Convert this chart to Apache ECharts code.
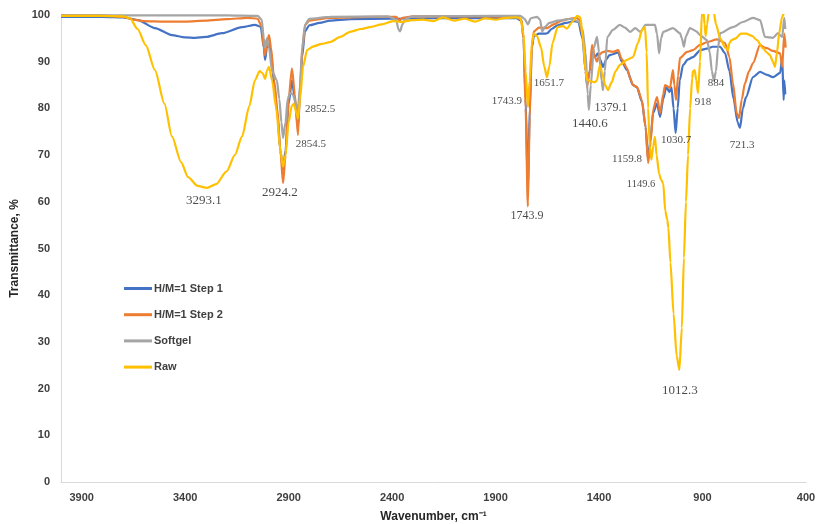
<!DOCTYPE html>
<html>
<head>
<meta charset="utf-8">
<script src="https://cdn.jsdelivr.net/npm/echarts@6/dist/echarts.min.js"></script>
<style>html,body{margin:0;padding:0;background:#fff}#c{width:817px;height:524px}</style>
</head>
<body>
<div id="c"></div>
<script>
const seriesNames = ['H/M=1 Step 1', 'H/M=1 Step 2', 'Softgel', 'Raw'];
const xTickLabels = [400, 900, 1400, 1900, 2400, 2900, 3400, 3900];
const yTickLabels = [0, 10, 20, 30, 40, 50, 60, 70, 80, 90, 100];

const step1 = [[4000,99.6],[3800,99.6],[3700,99.5],[3660,99.2],[3628,98.9],[3546,97.2],[3464,95.7],[3400,95.2],[3352,95.1],[3300,95.3],[3222,96.1],[3125,97.4],[3063,97.9],[3035,97.5],[3020,93],[3014,90.4],[3005,93],[2995,94],[2985,92],[2970,85],[2955,79],[2940,71],[2927,67],[2915,71],[2900,81],[2884,86],[2870,82],[2855,76],[2845,83],[2835,91],[2821,96.5],[2800,97.8],[2750,98.3],[2700,98.8],[2600,99.1],[2400,99.2],[2000,99.4],[1800,99.3],[1775,98.8],[1765,95],[1755,82],[1744,62],[1735,80],[1725,93],[1715,95.5],[1690,96],[1660,96],[1650,96.1],[1630,97],[1600,97.8],[1560,98.3],[1520,98.7],[1500,98.5],[1480,95],[1465,88],[1458,85.5],[1445,88],[1434,92],[1420,91],[1405,91.8],[1395,90.5],[1381,88.9],[1365,90.5],[1350,91.4],[1333,91.6],[1308,92],[1290,90],[1265,88.2],[1236,85],[1217,84.5],[1193,81.5],[1175,76],[1163,69],[1150,74],[1139,79],[1120,81],[1105,78.2],[1090,82],[1075,84.6],[1060,83.5],[1050,84.5],[1040,80],[1030,74.7],[1020,80],[1010,86],[994,89.3],[970,90.5],[946,91],[910,92.5],[880,92.8],[850,93.2],[815,93.2],[791,91.8],[770,88],[750,82],[730,77],[719,75.8],[705,80],[690,82.4],[656,86.7],[622,87.8],[588,87.2],[560,86.7],[525,87.6],[515,90.8],[508,81.8],[505,86],[500,83]];

const step2 = [[4000,99.9],[3800,99.9],[3700,99.6],[3650,99],[3600,98.7],[3500,98.6],[3400,98.6],[3300,98.8],[3200,99.1],[3100,99.4],[3050,99.2],[3030,97.5],[3020,93],[3014,91.4],[3005,94],[2995,95.7],[2985,93],[2970,86],[2955,80],[2940,71],[2927,64],[2915,70],[2900,82],[2884,88.6],[2870,83],[2855,74.3],[2845,84],[2835,92],[2821,97.9],[2800,98.8],[2700,99.4],[2500,99.6],[2380,99.6],[2365,98.8],[2350,99.4],[2300,99.7],[2000,99.7],[1800,99.6],[1775,99],[1765,95],[1755,80],[1744,59],[1735,78],[1725,93],[1715,96.5],[1690,97.3],[1650,97.2],[1620,98],[1580,98.8],[1540,99.2],[1510,99.4],[1495,99],[1478,95.3],[1465,88],[1458,84.6],[1445,88],[1434,93.6],[1420,91],[1410,90],[1400,91.4],[1385,92],[1360,92.3],[1333,92.1],[1308,92.5],[1290,90.5],[1265,88.6],[1250,86.5],[1236,85],[1217,84.6],[1193,81.8],[1175,76],[1163,68.3],[1150,73],[1139,79.7],[1120,82.4],[1105,79],[1090,83],[1081,85],[1057,84.4],[1043,88.2],[1036,85],[1028,81.8],[1018,87],[1009,90.8],[975,92.1],[946,92.5],[912,93.6],[878,94.2],[830,94.8],[791,94],[770,91],[753,85.4],[735,79],[724,77.9],[710,82],[695,85.4],[675,88],[656,89.7],[622,93.6],[600,93],[588,92.9],[560,92.3],[525,91.8],[515,88.9],[505,96],[498,93]];

const softgel = [[4000,99.9],[3500,99.9],[3200,99.9],[3050,99.8],[3030,99],[3020,95],[3014,93],[3005,95],[2995,93],[2980,88],[2957,86],[2945,82],[2935,77],[2927,73.7],[2915,77],[2905,82],[2893,83.3],[2880,83],[2865,81],[2855,79.7],[2845,85],[2835,93],[2820,98],[2800,99.2],[2700,99.6],[2420,99.7],[2380,99],[2370,97],[2362,96.5],[2350,98],[2335,99.2],[2300,99.7],[1900,99.8],[1780,99.8],[1760,99.2],[1744,98],[1730,99.3],[1700,99.6],[1685,99],[1675,96.5],[1660,97.5],[1640,98.3],[1600,98.8],[1530,99.2],[1500,98.6],[1480,97],[1465,92],[1455,83],[1449,79.7],[1440,85],[1425,93],[1410,95.3],[1400,92],[1388,86],[1381,83.9],[1372,88],[1360,95.3],[1333,96.8],[1300,97.9],[1275,97.3],[1250,96.4],[1225,97.2],[1200,96.4],[1175,97.9],[1130,97.9],[1120,96],[1110,91.8],[1100,95],[1090,96.4],[1043,97.2],[1009,96.1],[1000,95],[990,93.2],[980,95.5],[961,97.2],[930,96.5],[912,95.7],[878,94.6],[865,92],[855,88],[845,86],[835,88],[825,93],[815,96.1],[753,97.4],[705,98.5],[656,99.4],[622,98.9],[598,95.3],[560,95.1],[535,96.1],[515,95.3],[505,99.4],[500,97]];

const raw = [[4000,99.8],[3900,99.8],[3800,99.8],[3700,99.7],[3667,99.3],[3630,97],[3590,93.5],[3546,88.2],[3500,81],[3464,74],[3420,68.5],[3386,65.3],[3340,63.4],[3295,63],[3250,63.8],[3200,66.5],[3160,70],[3125,74],[3090,80.5],[3063,86],[3040,88],[3025,87.5],[3014,86.3],[3005,88],[2995,88.9],[2980,86],[2960,80],[2940,71],[2927,67.5],[2915,70],[2900,77],[2885,80.5],[2875,81],[2862,79],[2855,77.8],[2845,82],[2830,89],[2811,92.5],[2780,93.3],[2740,93.8],[2700,94.2],[2650,95.3],[2603,96.4],[2550,97],[2507,97.4],[2450,98],[2396,98.7],[2360,98.5],[2300,98.9],[2250,99],[2200,98.7],[2154,99.5],[2100,98.8],[2050,99.2],[2000,98.6],[1950,99.3],[1900,99],[1850,99.4],[1800,99.5],[1780,99.3],[1765,96],[1755,88],[1744,80.3],[1735,86],[1725,94],[1715,96],[1700,95.5],[1680,93],[1665,89],[1652,86.7],[1640,89],[1625,94],[1600,97.4],[1575,97.6],[1555,97.1],[1530,98.5],[1505,99.8],[1490,99.5],[1478,95],[1465,88],[1458,86.1],[1440,85.8],[1420,85.6],[1410,86],[1400,88.5],[1395,89.3],[1385,87.5],[1370,85],[1357,83.9],[1340,85.5],[1320,88],[1299,89.3],[1265,90.4],[1236,91],[1212,94],[1192,96.8],[1178,97.4],[1170,92],[1163,80],[1155,72],[1147,69],[1138,72],[1130,73.9],[1122,70],[1110,66],[1100,64.7],[1090,64],[1080,58],[1070,56.1],[1065,54.4],[1055,47],[1040,36],[1025,27],[1012,24],[1000,33],[990,48],[980,60],[970,70],[960,80],[950,86.5],[946,88],[938,88.2],[930,86],[922,83.3],[912,90],[903,100.5],[895,100.5],[890,98],[885,95.5],[878,98],[870,100.5],[845,100.5],[835,98],[815,95],[790,93],[777,92.5],[770,94],[760,94.6],[740,95],[715,96],[690,96],[660,95.5],[637,94.6],[608,92.9],[590,92],[574,91.4],[560,90],[550,88.9],[540,92],[530,96],[516,99.5],[505,100.5],[500,100.5]];

const peakLabels = ['3293.1','2924.2','2854.5','2852.5','1743.9','1651.7','1743.9','1440.6','1379.1','1159.8','1149.6','1030.7','918','884','721.3','1012.3'];
const peakLabelX = [3309, 2942, 2792, 2748, 1845, 1642, 1748, 1444, 1342, 1265, 1197, 1028, 898, 835, 709, 1009];
const peakLabelY = [60.2, 61.9, 72.4, 79.9, 81.6, 85.4, 57.0, 76.7, 80.1, 69.2, 63.8, 73.2, 81.4, 85.4, 72.2, 19.5];
const peakLabelSize = [13, 13, 11, 11, 11, 11, 12, 13, 12, 11, 10.5, 11, 11, 11, 11, 13];

const colors = ['#4472C4', '#ED7D31', '#A5A5A5', '#FFC000'];
const spectra = [step1, step2, softgel, raw];

const chart = echarts.init(document.getElementById('c'), null, {renderer: 'canvas'});

const lineSeries = spectra.map((d, i) => ({
  name: seriesNames[i],
  type: 'line',
  data: d,
  showSymbol: false,
  symbol: 'none',
  smooth: 0.25,
  smoothMonotone: 'x',
  clip: true,
  lineStyle: {color: colors[i], width: 2.2},
  itemStyle: {color: colors[i]},
  z: 2 + i
}));

const labelSeries = {
  name: 'peaks',
  type: 'scatter',
  symbolSize: 0,
  silent: true,
  z: 10,
  data: peakLabels.map((t, i) => ({
    value: [peakLabelX[i], peakLabelY[i]],
    label: {
      show: true,
      position: 'inside',
      formatter: t,
      fontFamily: '"Liberation Serif", "Times New Roman", serif',
      fontSize: peakLabelSize[i],
      color: '#1a1a1a'
    }
  }))
};

chart.setOption({
  animation: false,
  backgroundColor: '#ffffff',
  grid: {left: 61, right: 11, top: 15, bottom: 42, containLabel: false, outerBoundsMode: 'none'},
  legend: {
    data: seriesNames,
    orient: 'vertical',
    left: 119,
    top: 278,
    itemWidth: 28,
    itemHeight: 3,
    itemGap: 15.2,
    icon: 'rect',
    textStyle: {fontFamily: '"Liberation Sans", Arial, sans-serif', fontWeight: 'bold', fontSize: 11, color: '#404040', padding: [0, 0, 0, -3]}
  },
  xAxis: {
    type: 'value',
    inverse: true,
    min: 400,
    max: 4000,
    name: 'Wavenumber, cm⁻¹',
    nameLocation: 'middle',
    nameGap: 29,
    nameTextStyle: {fontFamily: '"Liberation Sans", Arial, sans-serif', fontWeight: 'bold', fontSize: 12, color: '#262626'},
    axisLine: {show: true, lineStyle: {color: '#D9D9D9', width: 1}},
    axisTick: {show: false},
    splitLine: {show: false},
    axisLabel: {
      customValues: xTickLabels,
      margin: 10,
      formatter: v => String(v),
      fontFamily: '"Liberation Sans", Arial, sans-serif', fontWeight: 'bold', fontSize: 11, color: '#404040'
    }
  },
  yAxis: {
    type: 'value',
    min: 0,
    max: 100,
    interval: 10,
    name: 'Transmittance, %',
    nameLocation: 'middle',
    nameGap: 30,
    nameRotate: 90,
    nameTextStyle: {fontFamily: '"Liberation Sans", Arial, sans-serif', fontWeight: 'bold', fontSize: 12, color: '#262626'},
    axisLine: {show: true, lineStyle: {color: '#D9D9D9', width: 1}},
    axisTick: {show: false},
    splitLine: {show: false},
    axisLabel: {
      customValues: yTickLabels,
      margin: 11,
      formatter: v => String(v),
      fontFamily: '"Liberation Sans", Arial, sans-serif', fontWeight: 'bold', fontSize: 11, color: '#404040'
    }
  },
  series: lineSeries.concat([labelSeries])
});
</script>
</body>
</html>
